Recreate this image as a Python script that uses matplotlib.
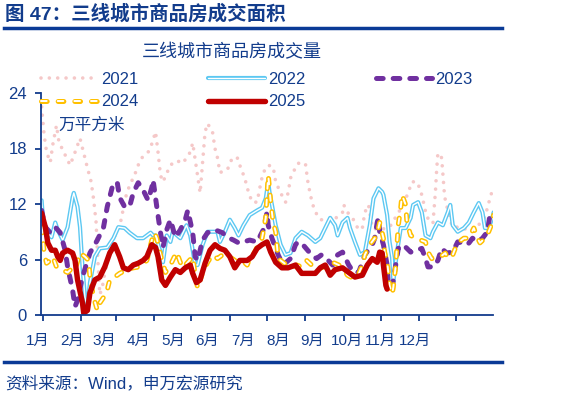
import matplotlib
matplotlib.use("Agg")
import matplotlib.pyplot as plt
import matplotlib.transforms as mtransforms
from matplotlib.lines import Line2D
from matplotlib.legend_handler import HandlerTuple

plt.rcParams['font.family'] = ['Liberation Sans', 'Noto Sans CJK SC']
plt.rcParams['lines.scale_dashes'] = False

BLUE = '#123C8C'

# values, x = day of year, y = 万平方米
days_2021 = [-1, 1, 3, 6, 8, 11, 13, 18, 22, 26, 30, 33, 36, 39, 41, 43, 44, 45, 46, 48, 50, 54, 58, 63,
             67, 70, 74, 77, 80, 85, 88, 91, 93, 95, 97, 103, 108, 113, 119, 121, 124, 127, 129, 131,
             133, 137, 139, 141, 143, 149, 153, 157, 159, 163, 166, 169, 173, 176, 178, 182, 186, 188,
             192, 196, 198, 200, 202, 206, 212, 213, 214, 216, 218, 222, 228, 234, 238, 242, 243, 246,
             250, 252, 255, 258, 260, 263, 266, 272, 280, 290, 295, 298, 302, 305, 307, 310, 315, 317,
             318, 319, 322, 323, 324, 325, 329, 331, 337, 343, 348, 353, 357, 360, 363]
vals_2021 = [22.5, 19.5, 17.6, 16.5, 18.4, 20.5, 18.7, 17.3, 16.2, 17.6, 19.1, 17.5, 15.9, 14.4, 12.5, 10,
             7, 4.5, 2.2, 3, 4.5, 7, 8.5, 10.2, 12.8, 14, 15.1, 16.2, 17, 17.6, 18.5, 19.8, 17.6, 15.1,
             14.4, 16.2, 16.7, 16.4, 17.6, 18.6, 15.9, 13.2, 16.5, 19.8, 20.7, 19.8, 18, 17, 15.4, 15.7,
             17, 17, 16.2, 14.8, 13.3, 12.2, 12.2, 14.3, 15.4, 16.2, 16, 14.4, 13.2, 12.2, 13.2, 14.8,
             15.4, 16.4, 16.4, 15.4, 14.4, 13, 11.9, 10.6, 10, 10.3, 10.6, 11.1, 11.9, 11.1, 10.5, 10,
             9.2, 9.4, 11.1, 11.9, 9.4, 9.2, 9.5, 11.7, 13.2, 14.4, 14.4, 13.5, 12.4, 10.6, 9.9, 13.3,
             15.7, 17.5, 17, 15.3, 13.5, 12.4, 10.3, 9.5, 9.5, 9.2, 9.2, 9.9, 10.6, 12.1, 13.5]

days_2022 = [-1, 0, 2, 7, 10, 12, 16, 20, 24, 25, 28, 30, 32, 34, 36, 38, 42, 46, 52, 57, 61, 66, 70, 76,
             81, 87, 89, 91, 95, 97, 100, 103, 105, 111, 116, 119, 123, 125, 129, 133, 141, 143, 147,
             151, 155, 158, 162, 167, 173, 177, 180, 182, 183, 185, 188, 192, 196, 200, 204, 209, 214,
             220, 224, 228, 232, 236, 238, 242, 246, 248, 252, 256, 260, 264, 267, 271, 274, 275, 278,
             280, 282, 283, 286, 289, 293, 297, 299, 303, 306, 309, 313, 315, 319, 323, 327, 329, 331,
             335, 340, 344, 348, 352, 355, 357, 360, 363, 364]
vals_2022 = [12.4, 10.6, 9.2, 8.4, 10, 9.2, 8.1, 9.5, 12.7, 13.2, 11.7, 9.5, 5.2, 1.9, 0.9, 3.5, 6.3,
             7.2, 7.3, 8.3, 9.5, 9.4, 8.9, 8.3, 8.3, 8.9, 8.6, 8.6, 6.8, 5.7, 8.6, 7.9, 9, 8.3, 9.7,
             8.6, 5.4, 5.4, 7.6, 9, 9, 7.9, 9, 10.3, 9.4, 8.6, 9.7, 10.8, 11.3, 11.6, 12.6, 14.4, 13.3,
             11.9, 9.7, 7.6, 6.5, 6.7, 8.3, 9, 8.6, 7.9, 8.3, 9.4, 10.5, 9.7, 8.6, 10, 10.5, 9.4, 7.9,
             6.5, 6.8, 9.7, 12.6, 13.7, 13.3, 13, 10.8, 7.9, 6.2, 3.6, 6.8, 9.4, 9.4, 10.5, 11.9, 12.2,
             11.1, 8.6, 8.3, 9, 10, 9.7, 11.1, 11.9, 9.7, 9, 9.4, 10, 11.1, 12.1, 11.1, 9.4, 9.4, 10.5,
             11.1]

days_2023 = [-1, 2, 6, 10, 14, 18, 20, 24, 26, 28, 32, 38, 44, 49, 52, 56, 60, 62, 66, 70, 73, 77, 81,
             85, 88, 89, 92, 95, 97, 100, 103, 107, 111, 115, 117, 121, 123, 125, 129, 133, 139, 145,
             149, 154, 158, 162, 167, 173, 178, 181, 182, 185, 190, 194, 200, 204, 206, 210, 217, 221,
             225, 229, 234, 238, 242, 247, 251, 255, 258, 260, 266, 268, 270, 271, 272, 275, 278, 279,
             282, 284, 287, 291, 297, 302, 306, 309, 311, 315, 319, 322, 326, 331, 335, 339, 343, 347,
             351, 355, 359, 361, 363]
vals_2023 = [11.3, 9.5, 8.9, 9.5, 8.9, 7, 5.2, 2.7, 0.9, 1.6, 4.1, 6.7, 8.1, 9.5, 11.7, 13.8, 14.4,
             12.7, 11.7, 11.7, 13.2, 14.3, 13.5, 12.4, 13.8, 14.6, 11.7, 8.9, 7.3, 9.2, 10.3, 8.4, 9.2,
             10.3, 11.3, 8.9, 6.3, 5.9, 8.1, 8.9, 9.2, 8.9, 8.4, 8.1, 7.8, 7.9, 8.1, 7.9, 9.2, 11.1,
             9.7, 8.3, 6.5, 5.4, 6.1, 7.6, 7.9, 7.6, 6.5, 6.1, 6.5, 6.1, 5.4, 6.5, 6.8, 5.4, 4.6, 4.6,
             5.7, 6.5, 7.6, 8.3, 10, 10.5, 9, 7.6, 5.4, 3.2, 2.9, 4.6, 7.2, 7.6, 6.8, 7, 7.2, 6.1, 5.2,
             5.2, 5.9, 7.2, 6.7, 6.8, 7.9, 7.8, 7.6, 8.3, 7.9, 8.3, 9, 10.8, 11.1]

days_2024 = [-1, 0, 1, 3, 6, 8, 11, 15, 20, 24, 26, 30, 34, 37, 38, 41, 44, 46, 49, 52, 54, 58, 62, 68,
             73, 78, 84, 88, 90, 92, 95, 99, 103, 108, 111, 113, 117, 121, 123, 125, 129, 133, 137,
             141, 145, 149, 153, 157, 161, 165, 167, 171, 174, 177, 180, 181, 182, 183, 184, 185, 186,
             188, 189, 190, 194, 200, 205, 209, 213, 217, 222, 226, 230, 234, 239, 243, 246, 250, 254,
             258, 260, 264, 268, 271, 272, 275, 276, 278, 279, 280, 282, 283, 285, 286, 287, 289, 290,
             293, 294, 297, 301, 305, 309, 311, 314, 317, 321, 325, 327, 331, 333, 335, 340, 344, 348,
             351, 353, 357, 360, 363, 364]
vals_2024 = [9.5, 8.4, 6.7, 5.6, 5.9, 6.3, 5.2, 4.9, 4.6, 5.1, 4.9, 6.7, 6.3, 5.9, 4.1, 1.9, 0.5, 1.3,
             1.9, 2.7, 3.8, 4.1, 4.5, 4.9, 5.1, 5.2, 5.9, 8.1, 8.9, 8.3, 6.5, 4.6, 5.4, 6.8, 5.7, 5.1,
             5.7, 6.3, 4.3, 2.9, 4.6, 5.7, 6.5, 6.1, 6.5, 6.3, 6.1, 5.7, 5.9, 5.4, 6.1, 6.8, 7.6, 8.3,
             10.5, 13, 15.1, 13.7, 12.2, 11.1, 10, 9, 7.6, 6.1, 5.7, 5.1, 5.4, 5.2, 5.9, 5.4, 4.9, 5.2,
             5.2, 5.7, 5.4, 4.9, 4.3, 4, 4.1, 5.4, 6.5, 7.6, 8.3, 9.4, 10, 8.3, 6.8, 5.7, 4.6, 3.2,
             2.2, 3, 5.4, 7.6, 9.7, 11.6, 13, 11.9, 10, 8.6, 8.3, 8.1, 7.9, 6.8, 6.1, 6.1, 6.3, 6.7,
             6.1, 6.5, 7.2, 7.8, 8.3, 8.3, 9.4, 8.3, 7.8, 8.3, 9, 10, 10.8]

days_2025 = [-1, 2, 4, 7, 10, 12, 14, 16, 20, 24, 26, 28, 32, 33, 36, 38, 42, 46, 50, 54, 58, 62, 65,
             69, 73, 77, 81, 84, 88, 91, 93, 96, 99, 103, 107, 111, 115, 119, 121, 124, 127, 131, 135,
             139, 143, 147, 151, 155, 159, 165, 169, 173, 177, 181, 184, 188, 193, 198, 204, 209, 214,
             220, 224, 228, 232, 236, 242, 247, 252, 258, 262, 266, 270, 272, 274, 275, 277, 278]
vals_2025 = [11, 9.5, 7.8, 7, 7, 6.3, 5.9, 6.7, 7, 6.7, 5.9, 3.8, 1.3, 0.2, 0.5, 2.4, 3.8, 4.1, 5.2,
             6.7, 7.6, 6.3, 5.1, 4.9, 5.4, 5.6, 5.9, 6.3, 7.6, 7.3, 6.3, 3.8, 3.2, 4.1, 4.9, 4.6, 5.1,
             5.4, 4.5, 3.5, 3.8, 5.6, 7, 7.6, 7.2, 7, 6.3, 5.1, 5.9, 5.9, 6.3, 7.2, 7.6, 7.9, 6.8, 5.7,
             5.1, 5.1, 5.4, 4.5, 4.5, 4.5, 5.1, 5.4, 4.3, 4.9, 5.1, 4.6, 4.1, 4.3, 5.4, 6.1, 5.7, 6.8,
             6.7, 5.4, 3.2, 2.8]

month_starts = [0, 31, 59, 90, 120, 151, 181, 212, 243, 273, 304, 334]
month_label_pos = [-4, 23.5, 50, 77.5, 105, 132.5, 161.5, 190, 217.5, 245.5, 273, 300.5]
month_labels = ['1月', '2月', '3月', '4月', '5月', '6月', '7月', '8月', '9月', '10月', '11月', '12月']
y_ticks = [0, 6, 12, 18, 24]

fig = plt.figure(figsize=(5.76, 3.97), dpi=100)
ax = fig.add_axes([41 / 576, 82 / 397, 452 / 576, 222 / 397])

pink = dict(color='#F5C8C8', lw=2.6, linestyle=(0, (0.01, 6)), dash_capstyle='round')
blue_out = dict(color='#5CC8F2', lw=3.0, solid_capstyle='round', solid_joinstyle='round')
blue_in = dict(color='white', lw=1.0, solid_capstyle='round', solid_joinstyle='round')
purple = dict(color='#7030A0', lw=3.6, linestyle=(0, (4.8, 7.2)), dash_capstyle='round')
yel_out = dict(color='#FFC000', lw=3.6, linestyle=(0, (4.1, 7.9)), dash_capstyle='round')
yel_in = dict(color='white', lw=1.4, linestyle=(0, (4.1, 7.9)), dash_capstyle='round')
red = dict(color='#C00000', lw=3.9, solid_capstyle='round', solid_joinstyle='round')

ax.plot(days_2021, vals_2021, **pink)
ax.plot(days_2022, vals_2022, **blue_out)
ax.plot(days_2022, vals_2022, **blue_in)
ax.plot(days_2023, vals_2023, **purple)
ax.plot(days_2024, vals_2024, **yel_out)
ax.plot(days_2024, vals_2024, **yel_in)
ax.plot(days_2025, vals_2025, **red)

ax.set_xlim(-1.5, 363.5)
ax.set_ylim(0, 24)
for side in ['top', 'right']:
    ax.spines[side].set_visible(False)
for side in ['left', 'bottom']:
    ax.spines[side].set_color(BLUE)
    ax.spines[side].set_linewidth(1.3)
ax.set_yticks(y_ticks)
ax.set_xticks(month_starts)
ax.set_xticklabels([])
ax.tick_params(axis='both', colors=BLUE, width=1.3, length=4, labelsize=12, pad=6)
ax.set_facecolor('none')

trans = mtransforms.blended_transform_factory(ax.transData, fig.transFigure)
for pos, lab in zip(month_label_pos, month_labels):
    ax.text(pos, 1 - 341 / 397, lab, transform=trans, ha='center', va='center',
            fontsize=11, color=BLUE, clip_on=False)

ax.text(0.038, 0.855, '万平方米', transform=ax.transAxes, fontsize=12, color=BLUE,
        ha='left', va='center')

# legend
h21 = Line2D([], [], **pink)
h22 = (Line2D([], [], **blue_out), Line2D([], [], **blue_in))
h23 = Line2D([], [], **purple)
h24 = (Line2D([], [], **yel_out), Line2D([], [], **yel_in))
h25 = Line2D([], [], **red)
fig.legend([h21, h24, h22, h25, h23], ['2021', '2024', '2022', '2025', '2023'],
           handler_map={tuple: HandlerTuple(ndivide=1)},
           ncol=3, loc='upper left', bbox_to_anchor=(41 / 576, 1 - 72 / 397),
           frameon=False, fontsize=12, labelcolor=BLUE, handlelength=3.4,
           handletextpad=0.2, columnspacing=4.2, labelspacing=0.45,
           borderpad=0, borderaxespad=0)

fig.text(232 / 576, 1 - 53 / 397, '三线城市商品房成交量', ha='center', va='center',
         fontsize=13, color=BLUE)
fig.text(5 / 576, 1 - 13.5 / 397, '图 47：三线城市商品房成交面积', ha='left', va='center',
         fontsize=14, fontweight='bold', color=BLUE)
fig.add_artist(Line2D([4 / 576, 502 / 576], [1 - 28 / 397] * 2, color='#0A3A96', lw=2.5))
fig.add_artist(Line2D([4 / 576, 502 / 576], [1 - 362 / 397] * 2, color='#0A3A96', lw=2.5))
fig.text(5 / 576, 1 - 383 / 397, '资料来源：Wind，申万宏源研究', ha='left', va='center',
         fontsize=12, color=BLUE)

fig.savefig('out.png', dpi=100)
